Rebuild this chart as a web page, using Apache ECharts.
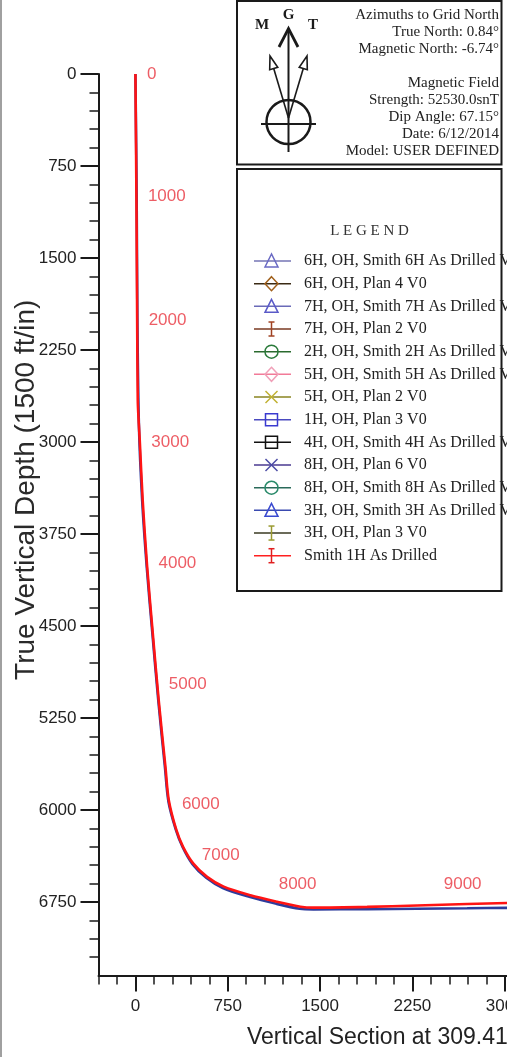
<!DOCTYPE html>
<html>
<head>
<meta charset="utf-8">
<script src="https://cdn.jsdelivr.net/npm/echarts@6/dist/echarts.min.js"></script>
<style>
  html, body { margin: 0; padding: 0; overflow: hidden; background: #ffffff; }
  #chart { width: 900px; height: 1057px; }
</style>
</head>
<body>
<div id="chart"></div>
<script>
// ---- Well path: Smith 1H As Drilled (vertical section ft, true vertical depth ft)
const drilledVS  = [0, 8, 14, 19, 27, 35, 59, 95, 141, 189, 244, 271, 333, 387, 469, 582, 717, 934, 1151, 1340, 1446, 1882, 2288, 2695, 3020, 3060];
const drilledTVD = [0, 1000, 2000, 2660, 2845, 2985, 3475, 4015, 4560, 5105, 5650, 5920, 6165, 6300, 6435, 6545, 6625, 6695, 6748, 6788, 6796, 6790, 6778, 6766, 6758, 6757];

// ---- Well path: 1H, OH, Plan 3 V0
const planVS  = [0, 10, 16, 28, 55, 92, 138, 186, 240, 268, 328, 382, 462, 575, 710, 925, 1145, 1335, 1446, 1882, 2288, 2695, 3020, 3060];
const planTVD = [0, 1000, 2000, 2850, 3480, 4020, 4565, 5110, 5655, 5930, 6160, 6300, 6440, 6553, 6636, 6708, 6765, 6805, 6810, 6808, 6805, 6801, 6798, 6798];

// ---- Measured-depth markers along the drilled path
const mdValues = [0, 1000, 2000, 3000, 4000, 5000, 6000, 7000, 8000, 9000];
const mdVS     = [0, 8, 14, 36, 94, 178, 284, 660, 1480, 2520];
const mdTVD    = [0, 995, 2005, 3000, 3990, 4975, 5950, 6591, 6796, 6771];

// ---- Axis tick labels
const xTickLabels = [0, 750, 1500, 2250, 3000, 3750, 4500, 5250];
const yTickLabels = [0, 750, 1500, 2250, 3000, 3750, 4500, 5250, 6000, 6750];

// ---- Legend entries
const legendNames = [
  '6H, OH, Smith 6H As Drilled V0',
  '6H, OH, Plan 4 V0',
  '7H, OH, Smith 7H As Drilled V0',
  '7H, OH, Plan 2 V0',
  '2H, OH, Smith 2H As Drilled V0',
  '5H, OH, Smith 5H As Drilled V0',
  '5H, OH, Plan 2 V0',
  '1H, OH, Plan 3 V0',
  '4H, OH, Smith 4H As Drilled V0',
  '8H, OH, Plan 6 V0',
  '8H, OH, Smith 8H As Drilled V0',
  '3H, OH, Smith 3H As Drilled V0',
  '3H, OH, Plan 3 V0',
  'Smith 1H As Drilled'
];
const legendMarks = ['triangle', 'diamond', 'triangle', 'ibeam', 'circle', 'diamond', 'cross',
                     'square', 'square', 'cross', 'circle', 'triangle', 'ibeam', 'ibeam'];
const legendLineColors = ['#7474b4', '#3a2a14', '#6a6ab8', '#7a3a22', '#2a6a2e', '#f27a98', '#8a8420',
                          '#4a4ac0', '#111111', '#4a3a90', '#2a6a5a', '#3a4ab0', '#3a3a22', '#ff2020'];
const legendMarkColors = ['#6a6ac4', '#a0601c', '#5a5ac8', '#a04222', '#2a7a3a', '#f0a0b8', '#c0b030',
                          '#3a3ad0', '#111111', '#4a4aa4', '#2a8a6a', '#3a4ad0', '#9a9a30', '#e02020'];

// ---- Magnetic / north reference block
const northInfo = ['Azimuths to Grid North', 'True North: 0.84\u00b0', 'Magnetic North: -6.74\u00b0'];
const fieldInfo = ['Magnetic Field', 'Strength: 52530.0snT', 'Dip Angle: 67.15\u00b0', 'Date: 6/12/2014', 'Model: USER DEFINED'];

const SANS = '"Liberation Sans", Arial, sans-serif';
const SERIF = '"Liberation Serif", "Times New Roman", serif';
const INK = '#1a1a1a';
const MD_RED = '#e8343e';

function range(from, to, step) { const a = []; for (let v = from; v <= to; v += step) a.push(v); return a; }
const xMinor = range(-300, 5250, 150);
const yMinor = range(0, 7200, 150);

// MD label placement along the path
const mdLabelShift = { 7000: [4, -27], 8000: [-20, -23], 9000: [17, -20] };

function pairs(xs, ys) { return xs.map((x, i) => [x, ys[i]]); }

// ---- Legend symbol drawing
function legendMark(kind, cx, cy, color) {
  const st = { fill: 'none', stroke: color, lineWidth: 1.5 };
  switch (kind) {
    case 'triangle':
      return [{ type: 'polygon', shape: { points: [[cx, cy - 7], [cx - 6.5, cy + 6], [cx + 6.5, cy + 6]] }, style: st }];
    case 'diamond':
      return [{ type: 'polygon', shape: { points: [[cx, cy - 7], [cx + 6.5, cy], [cx, cy + 7], [cx - 6.5, cy]] }, style: st }];
    case 'circle':
      return [{ type: 'circle', shape: { cx: cx, cy: cy, r: 6.5 }, style: st }];
    case 'square':
      return [{ type: 'rect', shape: { x: cx - 6, y: cy - 6, width: 12, height: 12 }, style: st }];
    case 'cross':
      return [
        { type: 'line', shape: { x1: cx - 6, y1: cy - 6, x2: cx + 6, y2: cy + 6 }, style: st },
        { type: 'line', shape: { x1: cx - 6, y1: cy + 6, x2: cx + 6, y2: cy - 6 }, style: st }
      ];
    case 'ibeam':
      return [
        { type: 'line', shape: { x1: cx, y1: cy - 7, x2: cx, y2: cy + 7 }, style: st },
        { type: 'line', shape: { x1: cx - 3, y1: cy - 7, x2: cx + 3, y2: cy - 7 }, style: st },
        { type: 'line', shape: { x1: cx - 3, y1: cy + 7, x2: cx + 3, y2: cy + 7 }, style: st }
      ];
  }
  return [];
}

function openHead(tip, from, len, half) {
  const dx = tip[0] - from[0], dy = tip[1] - from[1];
  const n = Math.hypot(dx, dy), ux = dx / n, uy = dy / n;
  const bx = tip[0] - ux * len, by = tip[1] - uy * len;
  return { base: [bx, by], points: [tip, [bx - uy * half, by + ux * half], [bx + uy * half, by - ux * half]] };
}

const graphics = [];

// page frame on the left edge
graphics.push({ type: 'line', shape: { x1: 1, y1: 0, x2: 1, y2: 1057 }, style: { stroke: '#a0a0a0', lineWidth: 2 } });

// north reference box
graphics.push({ type: 'rect', shape: { x: 237, y: 1, width: 264.5, height: 163.5 }, style: { fill: '#fff', stroke: INK, lineWidth: 2 } });
// legend box
graphics.push({ type: 'rect', shape: { x: 237, y: 169, width: 264.5, height: 422 }, style: { fill: '#fff', stroke: INK, lineWidth: 2 } });

// compass
const C = [288.5, 118];
graphics.push({ type: 'circle', shape: { cx: 288.5, cy: 122, r: 22 }, style: { fill: 'none', stroke: INK, lineWidth: 2.5 } });
graphics.push({ type: 'line', shape: { x1: 261, y1: 124, x2: 316, y2: 124 }, style: { stroke: INK, lineWidth: 2 } });
graphics.push({ type: 'line', shape: { x1: 288.5, y1: 29, x2: 288.5, y2: 152 }, style: { stroke: INK, lineWidth: 2 } });
graphics.push({ type: 'polyline', shape: { points: [[279, 47], [288.5, 28.5], [298, 47]] }, style: { stroke: INK, lineWidth: 2.8, fill: 'none' } });
[[270, 56], [307, 56]].forEach(tip => {
  const h = openHead(tip, C, 13, 4.2);
  graphics.push({ type: 'line', shape: { x1: C[0], y1: C[1], x2: h.base[0], y2: h.base[1] }, style: { stroke: INK, lineWidth: 1.6 } });
  graphics.push({ type: 'polygon', shape: { points: h.points }, style: { fill: 'none', stroke: INK, lineWidth: 1.6 } });
});
[['G', 288.5, 15], ['M', 262, 25], ['T', 313, 25]].forEach(([t, x, y]) => {
  graphics.push({ type: 'text', x: x, y: y, style: { text: t, fontFamily: SERIF, fontWeight: 'bold', fontSize: 15, fill: INK, align: 'center', verticalAlign: 'middle' } });
});

// north / field text
northInfo.forEach((t, i) => {
  graphics.push({ type: 'text', x: 499, y: 15 + i * 17, style: { text: t, fontFamily: SERIF, fontSize: 15, fill: '#222', align: 'right', verticalAlign: 'middle' } });
});
fieldInfo.forEach((t, i) => {
  graphics.push({ type: 'text', x: 499, y: 83 + i * 17, style: { text: t, fontFamily: SERIF, fontSize: 15, fill: '#222', align: 'right', verticalAlign: 'middle' } });
});

// legend
graphics.push({ type: 'text', x: 369.5, y: 231.5, style: { text: 'L E G E N D', fontFamily: SERIF, fontSize: 15, fill: '#333', align: 'center', verticalAlign: 'middle' } });
legendNames.forEach((name, i) => {
  const y = 261 + i * 22.67;
  graphics.push({ type: 'line', shape: { x1: 254, y1: y, x2: 291, y2: y }, style: { stroke: legendLineColors[i], lineWidth: 1.5 } });
  legendMark(legendMarks[i], 271.5, y, legendMarkColors[i]).forEach(g => graphics.push(g));
  graphics.push({ type: 'text', x: 304, y: y, style: { text: name, fontFamily: SERIF, fontSize: 16, fill: '#222', align: 'left', verticalAlign: 'middle' } });
});

const axisLineStyle = { color: INK, width: 2 };
const plain = v => String(v);

const option = {
  backgroundColor: '#ffffff',
  animation: false,
  grid: { left: 98.5, top: 74, width: 683.2, height: 901.6, containLabel: false, outerBoundsMode: 'none' },
  xAxis: [
    {
      type: 'value', min: -300, max: 5250, position: 'bottom',
      axisLine: { show: true, onZero: false, lineStyle: axisLineStyle },
      axisTick: { show: true, customValues: xTickLabels, length: 16, lineStyle: { color: INK, width: 2 } },
      axisLabel: { customValues: xTickLabels, formatter: plain, margin: 22, fontSize: 17, fontFamily: SANS, color: '#222' },
      splitLine: { show: false },
      name: 'Vertical Section at 309.41\u00b0 (1500 ft/in)',
      nameLocation: 'middle', nameGap: 51, nameMoveOverlap: false,
      nameTextStyle: { fontSize: 23, fontFamily: SANS, color: '#222' }
    },
    {
      type: 'value', min: -300, max: 5250, position: 'bottom',
      axisLine: { show: false, onZero: false },
      axisTick: { show: true, customValues: xMinor, length: 9, lineStyle: { color: INK, width: 1.5 } },
      axisLabel: { show: false },
      splitLine: { show: false }
    }
  ],
  yAxis: [
    {
      type: 'value', min: 0, max: 7350, inverse: true, position: 'left',
      axisLine: { show: true, onZero: false, lineStyle: axisLineStyle },
      axisTick: { show: true, customValues: yTickLabels, length: 18, lineStyle: { color: INK, width: 2 } },
      axisLabel: { customValues: yTickLabels, formatter: plain, margin: 22, fontSize: 17, fontFamily: SANS, color: '#222' },
      splitLine: { show: false },
      name: 'True Vertical Depth (1500 ft/in)',
      nameLocation: 'middle', nameGap: 58, nameMoveOverlap: false,
      nameTextStyle: { fontSize: 28, fontFamily: SANS, color: '#2a2a2a', padding: [0, 0, 0, 70] }
    },
    {
      type: 'value', min: 0, max: 7350, inverse: true, position: 'left',
      axisLine: { show: false, onZero: false },
      axisTick: { show: true, customValues: yMinor, length: 9, lineStyle: { color: INK, width: 1.5 } },
      axisLabel: { show: false },
      splitLine: { show: false }
    }
  ],
  series: [
    {
      name: '1H, OH, Plan 3 V0', type: 'line', xAxisIndex: 0, yAxisIndex: 0,
      data: pairs(planVS, planTVD), showSymbol: false, smooth: 0.3, z: 2,
      lineStyle: { color: '#2e3c9c', width: 2.6 }
    },
    {
      name: 'Smith 1H As Drilled', type: 'line', xAxisIndex: 0, yAxisIndex: 0,
      data: pairs(drilledVS, drilledTVD), showSymbol: false, smooth: 0.3, z: 3,
      lineStyle: { color: '#ff1414', width: 2.6 }
    },
    {
      name: 'MD markers', type: 'scatter', xAxisIndex: 0, yAxisIndex: 0, z: 4,
      symbol: 'circle', symbolSize: 1, itemStyle: { color: 'rgba(0,0,0,0)' },
      data: mdValues.map((md, i) => {
        const shift = mdLabelShift[md];
        return {
          value: [mdVS[i], mdTVD[i]],
          label: shift ? { position: 'inside', offset: shift } : { position: 'right', distance: 11 }
        };
      }),
      label: {
        show: true, color: MD_RED, fontSize: 17, fontFamily: SANS,
        formatter: p => String(mdValues[p.dataIndex])
      }
    }
  ],
  graphic: { elements: graphics }
};

const chart = echarts.init(document.getElementById('chart'), null, { renderer: 'canvas' });
chart.setOption(option);
</script>
</body>
</html>
